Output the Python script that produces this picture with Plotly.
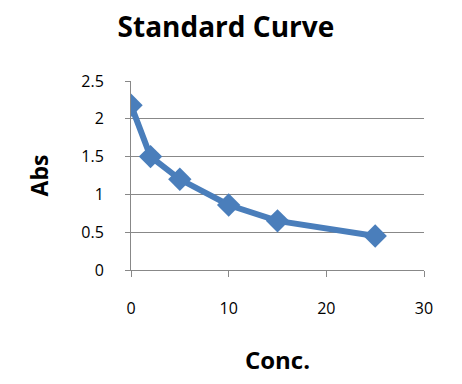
import plotly.graph_objects as go

conc = [0, 2, 5, 10, 15, 25]
absorbance = [2.18, 1.50, 1.20, 0.86, 0.65, 0.45]
x_ticks = [0, 10, 20, 30]
y_ticks = [0, 0.5, 1, 1.5, 2, 2.5]
y_tick_labels = ["0", "0.5", "1", "1.5", "2", "2.5"]

fig = go.Figure()
fig.add_trace(go.Scatter(
    x=conc, y=absorbance, mode="lines+markers",
    line=dict(color="#4A7EBB", width=6),
    marker=dict(symbol="diamond", size=18, color="#4A7EBB"),
    showlegend=False,
))

fig.update_layout(
    width=454, height=376,
    margin=dict(l=123, r=38, t=73, b=114),
    paper_bgcolor="white", plot_bgcolor="white",
    font=dict(family="Open Sans, Liberation Sans, sans-serif", color="black"),
    title=dict(text="<b>Standard Curve</b>", x=0.48, xanchor="center",
               y=0.975, yanchor="top", pad=dict(t=0, b=0),
               font=dict(size=28, color="black")),
    xaxis=dict(
        range=[0, 30], tickvals=x_ticks, showgrid=False,
        showline=True, linecolor="#888888", linewidth=1,
        ticks="outside", ticklen=6, tickcolor="#888888",
        tickfont=dict(size=16), ticklabelstandoff=18,
        zeroline=False,
        title=dict(text="<b>Conc.</b>", font=dict(size=24), standoff=33),
    ),
    yaxis=dict(
        range=[0, 2.5], tickvals=y_ticks, ticktext=y_tick_labels,
        showgrid=True, gridcolor="#888888", gridwidth=1,
        showline=True, linecolor="#888888", linewidth=1,
        ticks="outside", ticklen=5, tickcolor="#888888",
        tickfont=dict(size=16), ticklabelstandoff=18,
        zeroline=False,
        title=dict(text="<b>Abs</b>", font=dict(size=23), standoff=26),
    ),
)

fig.write_html("out.html")
